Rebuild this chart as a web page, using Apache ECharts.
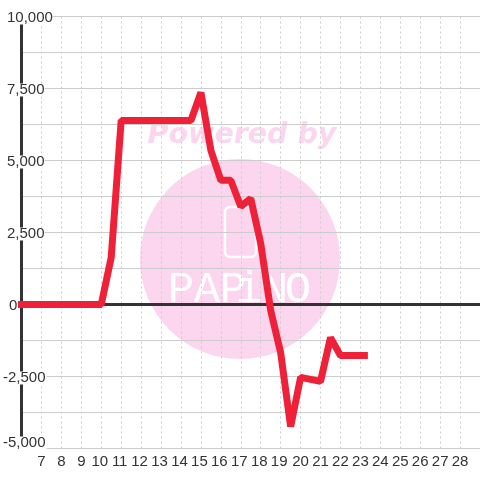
<!DOCTYPE html>
<html><head><meta charset="utf-8">
<style>html,body{margin:0;padding:0;background:#fff}#c{width:480px;height:480px}</style>
<script src="https://cdn.jsdelivr.net/npm/echarts@6/dist/echarts.min.js"></script>
</head><body><div id="c"></div>
<script>
const hours = [6,10,10.5,11,14.5,15,15.5,16,16.5,17,17.5,18,18.5,19,19.5,20,21,21.5,22,23.2];
const values = [0,0,1630,6390,6390,7360,5350,4310,4310,3400,3680,2120,-210,-1670,-4240,-2530,-2670,-1150,-1770,-1770];
const tickHours = [7,8,9,10,11,12,13,14,15,16,17,18,19,20,21,22,23,24,25,26,27,28];
const tickValues = {10000:'10,000',7500:'7,500',5000:'5,000',2500:'2,500',0:'0','-2500':'-2,500','-5000':'-5,000'};
const logoLetters = ['P','A','P','i','N','O'];
const logoX = [181,207,233,249,275,298];

const chart = echarts.init(document.getElementById('c'), null, {renderer:'canvas'});
const labelBase = {fontFamily:'"Liberation Sans"',fontSize:15,color:'#333',backgroundColor:'#fff',height:13,lineHeight:13};
chart.setOption({
  animation:false,
  backgroundColor:'#fff',
  grid:{left:20.5,right:0,top:16.5,bottom:31.5},
  graphic:[
    {type:'circle',z:-10,shape:{cx:240,cy:259,r:100},style:{fill:'#fbd6ee'},silent:true},
    {type:'text',z:-10,x:242,y:136,style:{text:'Powered by',font:'italic bold 28.5px "DejaVu Sans"',fill:'#fbd6ee',align:'center',verticalAlign:'middle'},silent:true},
    {type:'rect',z:-9,shape:{x:225,y:207,width:31,height:50,r:5},style:{fill:'none',stroke:'#fff',lineWidth:2.5},silent:true},
    ...logoLetters.map((ch,i)=>({type:'text',z:-9,x:logoX[i],y:290,style:{text:ch,font:'44px "Liberation Mono"',fill:'#fff',align:'center',verticalAlign:'middle'},silent:true}))
  ],
  xAxis:[
    {type:'value',min:6,max:29,interval:1,position:'bottom',
     axisLine:{show:false,onZero:false},axisTick:{show:false},
     splitLine:{show:true,lineStyle:{color:'#ccc',type:[2,3],width:1}},
     axisLabel:{margin:6,hideOverlap:false,showMinLabel:false,showMaxLabel:false,
       formatter:v=>{
         if(!tickHours.includes(v)) return '';
         return (v>=10&&v<20)?'{teen|'+v+'}':'{std|'+v+'}';
       },
       rich:{
         teen:{fontFamily:'"Liberation Sans"',fontSize:15,color:'#333',padding:[0,3,0,0]},
         std:{fontFamily:'"Liberation Sans"',fontSize:15,color:'#333'}
       }}},
    {type:'value',min:6,max:29,interval:1,position:'top',
     axisLine:{show:true,onZero:true,lineStyle:{color:'#333',width:3}},axisTick:{show:false},splitLine:{show:false},axisLabel:{show:false}}
  ],
  yAxis:{type:'value',min:-5000,max:10000,interval:1250,
    axisLine:{show:true,onZero:false,lineStyle:{color:'#333',width:3}},axisTick:{show:false},
    splitLine:{show:true,lineStyle:{color:'#ccc',width:1}},
    axisLabel:{show:true,inside:false,margin:18.5,align:'left',hideOverlap:false,showMinLabel:true,showMaxLabel:true,z:10,
      padding:[3,0,0,0],
      formatter:v=>{
        const t=tickValues[v];
        if(t===undefined) return '';
        if(v===-5000) return '{low|'+t+'}';
        if(v<0) return '{neg|'+t+'}';
        if(v===0) return '{zero|'+t+'}';
        return '{pos|'+t+'}';
      },
      rich:{
        neg:{...labelBase,padding:[0,1,0,0]},
        low:{...labelBase,padding:[0,1,14,0]},
        zero:{...labelBase,padding:[0,0,0,6]},
        pos:{...labelBase,padding:[0,0,0,4]}
      }}},
  series:[{type:'line',xAxisIndex:0,data:hours.map((h,i)=>[h,values[i]]),showSymbol:false,symbol:'none',clip:false,z:5,
    lineStyle:{color:'#ee2138',width:7,cap:'square',join:'bevel'}}]
});
</script></body></html>
